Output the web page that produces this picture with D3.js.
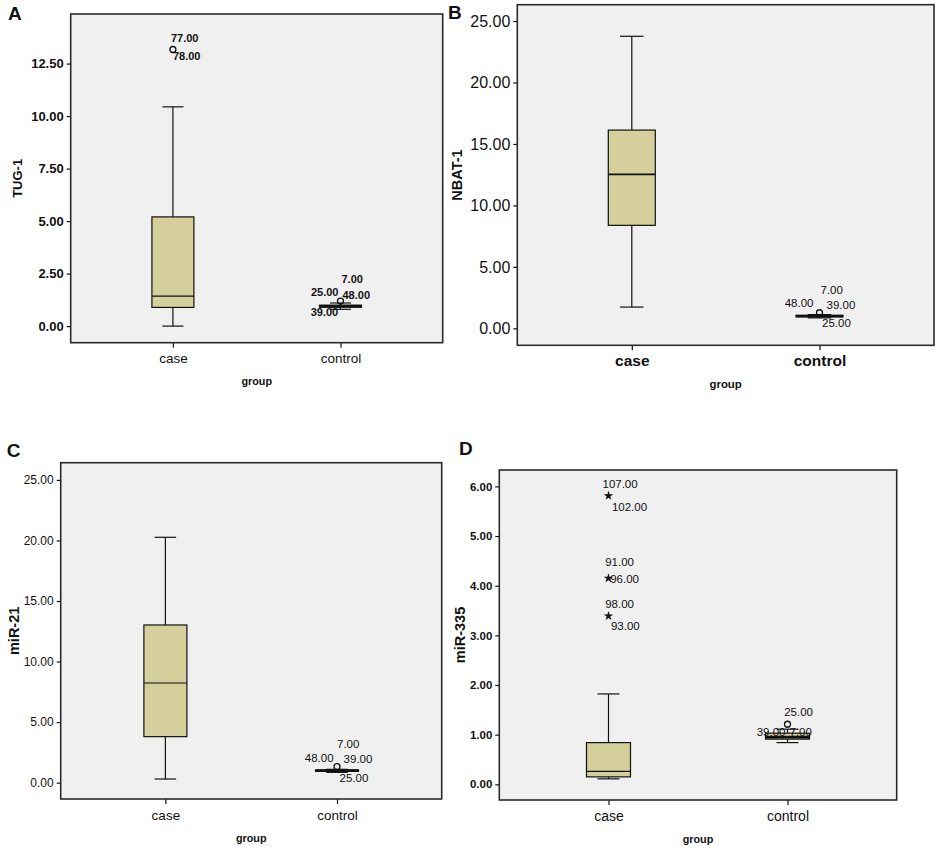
<!DOCTYPE html>
<html>
<head>
<meta charset="utf-8">
<script src="https://cdn.jsdelivr.net/npm/d3@7"></script>
<style>
  body { margin: 0; background: #fff; }
  text { font-family: "Liberation Sans", Arial, sans-serif; fill: #111; }
</style>
</head>
<body>
<div id="chart"></div>
<script>
// categories
var groups = ["case", "control"];

// box stats: [min whisker, Q1, median, Q3, max whisker]
var tugCase = [0.0, 0.89, 1.43, 5.2, 10.44];
var tugControl = [0.8, 0.9, 0.95, 0.99, 1.1];
var nbatCase = [1.73, 8.38, 12.53, 16.13, 23.76];
var nbatControl = [0.85, 0.93, 1.0, 1.05, 1.12];
var mir21Case = [0.3, 3.8, 8.23, 13.02, 20.26];
var mir21Control = [0.85, 0.93, 0.99, 1.04, 1.1];
var mir335Case = [0.11, 0.15, 0.26, 0.84, 1.82];
var mir335Control = [0.84, 0.91, 0.95, 1.03, 1.11];

// outliers (value + case ids)
var tugOutliers = [
  { group: "case", value: 13.17, ids: ["77.00", "78.00"], shape: "circle" },
  { group: "control", value: 1.19, ids: ["7.00", "25.00", "48.00", "39.00"], shape: "circle" }
];
var nbatOutliers = [
  { group: "control", value: 1.27, ids: ["7.00", "48.00", "39.00", "25.00"], shape: "circle" }
];
var mir21Outliers = [
  { group: "control", value: 1.32, ids: ["7.00", "48.00", "39.00", "25.00"], shape: "circle" }
];
var mir335Outliers = [
  { group: "case", value: 5.81, ids: ["107.00", "102.00"], shape: "star" },
  { group: "case", value: 4.15, ids: ["91.00", "96.00"], shape: "star" },
  { group: "case", value: 3.39, ids: ["98.00", "93.00"], shape: "star" },
  { group: "control", value: 1.21, ids: ["25.00", "39.00", "7.00"], shape: "circle" }
];

// tick values
var tugTicks = [0, 2.5, 5, 7.5, 10, 12.5];
var nbatTicks = [0, 5, 10, 15, 20, 25];
var mir21Ticks = [0, 5, 10, 15, 20, 25];
var mir335Ticks = [0, 1, 2, 3, 4, 5, 6];

var panelLetters = ["A", "B", "C", "D"];
var yTitles = ["TUG-1", "NBAT-1", "miR-21", "miR-335"];

// layout / styling per panel
var panels = [
  { stats: [tugCase, tugControl], outliers: tugOutliers, ticks: tugTicks,
    domain: [-0.79, 14.86], left: 70.7, top: 14, width: 372, height: 328.7,
    letterX: 8, letterY: 20, titleX: 17,
    tickSize: 13, tickWeight: "bold", catSize: 13.5, catWeight: "normal", groupSize: 10.8,
    outSize: 11, outWeight: "bold", boxW: 42, medianW: 1.2,
    offsets: { case: { "77.00": [-2, -7.6, "start"], "78.00": [0, 11, "start"] },
               control: { "7.00": [1, -17.7, "start"], "25.00": [-2, -5, "end"],
                          "48.00": [2, -2, "start"], "39.00": [-2.3, 15, "end"] } } },
  { stats: [nbatCase, nbatControl], outliers: nbatOutliers, ticks: nbatTicks,
    domain: [-1.38, 26.33], left: 517.3, top: 4.7, width: 416.7, height: 340.6,
    letterX: 448, letterY: 18.5, titleX: 457,
    tickSize: 16, tickWeight: "normal", catSize: 15.5, catWeight: "bold", groupSize: 11.4,
    outSize: 11.5, outWeight: "normal", boxW: 47, medianW: 1.8,
    offsets: { control: { "7.00": [1, -18.7, "start"], "48.00": [-6, -6, "end"],
                          "39.00": [7, -3.4, "start"], "25.00": [2.5, 14.6, "start"] } } },
  { stats: [mir21Case, mir21Control], outliers: mir21Outliers, ticks: mir21Ticks,
    domain: [-1.35, 26.42], left: 60.7, top: 462.7, width: 381, height: 336.3,
    letterX: 6.7, letterY: 456.7, titleX: 14,
    tickSize: 12, tickWeight: "normal", catSize: 13.5, catWeight: "normal", groupSize: 10.8,
    outSize: 11.5, outWeight: "normal", boxW: 43, medianW: 1.2,
    offsets: { control: { "7.00": [0, -18.4, "start"], "48.00": [-3.4, -5, "end"],
                          "39.00": [6.6, -3.4, "start"], "25.00": [2.6, 15, "start"] } } },
  { stats: [mir335Case, mir335Control], outliers: mir335Outliers, ticks: mir335Ticks,
    domain: [-0.316, 6.33], left: 499.3, top: 470, width: 397.4, height: 330,
    letterX: 459, letterY: 455, titleX: 460,
    tickSize: 11.5, tickWeight: "bold", catSize: 14, catWeight: "normal", groupSize: 10.8,
    outSize: 11.5, outWeight: "normal", boxW: 44, medianW: 1.2,
    offsets: { case: { "107.00": [-6, -7.6, "start"], "102.00": [3.4, 14.7, "start"],
                       "91.00": [-3.3, -12.3, "start"], "96.00": [1.7, 4.3, "start"],
                       "98.00": [-3.3, -8, "start"], "93.00": [2.4, 14.3, "start"] },
               control: { "25.00": [-3.3, -8, "start"], "39.00": [-2, 12, "end"],
                          "7.00": [2, 12, "start"] } } }
];

var svg = d3.select("#chart")
  .append("svg")
  .attr("width", 941)
  .attr("height", 849);

var boxFill = "#d4cf9b";
var fmt = d3.format(".2f");

panels.forEach(function(p, i) {
  var g = svg.append("g");

  var x = d3.scalePoint()
    .domain(groups)
    .range([p.left, p.left + p.width])
    .padding(0.61);

  var y = d3.scaleLinear()
    .domain(p.domain)
    .range([p.top + p.height, p.top]);

  // plot background
  g.append("rect")
    .attr("x", p.left).attr("y", p.top)
    .attr("width", p.width).attr("height", p.height)
    .attr("fill", "#f0f0f0");

  // boxes
  groups.forEach(function(grp, j) {
    var s = p.stats[j];
    var cx = x(grp);
    var bw = p.boxW, cap = p.boxW / 2;
    var bg = g.append("g");

    bg.append("line")
      .attr("x1", cx).attr("x2", cx)
      .attr("y1", y(s[0])).attr("y2", y(s[1]))
      .attr("stroke", "#111").attr("stroke-width", 1.2);
    bg.append("line")
      .attr("x1", cx).attr("x2", cx)
      .attr("y1", y(s[3])).attr("y2", y(s[4]))
      .attr("stroke", "#111").attr("stroke-width", 1.2);
    [s[0], s[4]].forEach(function(v) {
      bg.append("line")
        .attr("x1", cx - cap / 2).attr("x2", cx + cap / 2)
        .attr("y1", y(v)).attr("y2", y(v))
        .attr("stroke", "#111").attr("stroke-width", 1.2);
    });
    bg.append("rect")
      .attr("x", cx - bw / 2).attr("y", y(s[3]))
      .attr("width", bw).attr("height", Math.max(y(s[1]) - y(s[3]), 1))
      .attr("fill", boxFill)
      .attr("stroke", "#111").attr("stroke-width", 1.2);
    bg.append("line")
      .attr("x1", cx - bw / 2).attr("x2", cx + bw / 2)
      .attr("y1", y(s[2])).attr("y2", y(s[2]))
      .attr("stroke", "#111")
      .attr("stroke-width", grp === "control" ? 2.6 : p.medianW);
  });

  // outliers
  p.outliers.forEach(function(o) {
    var cx = x(o.group), cy = y(o.value);
    if (o.shape === "star") {
      g.append("path")
        .attr("d", d3.symbol().type(d3.symbolStar).size(28)())
        .attr("transform", "translate(" + cx + "," + cy + ")")
        .attr("fill", "#111");
    } else {
      g.append("circle")
        .attr("cx", cx).attr("cy", cy).attr("r", 3)
        .attr("fill", "none")
        .attr("stroke", "#111").attr("stroke-width", 1.3);
    }
    var offs = p.offsets[o.group] || {};
    o.ids.forEach(function(id) {
      var off = offs[id] || [4, 0, "start"];
      g.append("text")
        .attr("x", cx + off[0])
        .attr("y", cy + off[1])
        .attr("text-anchor", off[2])
        .style("font-size", p.outSize + "px")
        .style("font-weight", p.outWeight)
        .text(id);
    });
  });

  // y axis
  var yAxis = g.append("g")
    .attr("transform", "translate(" + p.left + ",0)")
    .call(d3.axisLeft(y).tickValues(p.ticks).tickSize(4).tickPadding(3).tickFormat(fmt));
  yAxis.select(".domain").remove();
  yAxis.selectAll(".tick line").attr("stroke", "#111").attr("stroke-width", 1.2);
  yAxis.selectAll(".tick text")
    .attr("fill", "#111")
    .style("font-family", "'Liberation Sans', Arial, sans-serif")
    .style("font-size", p.tickSize + "px")
    .style("font-weight", p.tickWeight);

  // x axis
  var xAxis = g.append("g")
    .attr("transform", "translate(0," + (p.top + p.height) + ")")
    .call(d3.axisBottom(x).tickSize(5));
  xAxis.select(".domain").remove();
  xAxis.selectAll(".tick line").attr("stroke", "#111").attr("stroke-width", 1.2);
  xAxis.selectAll(".tick text")
    .attr("y", 20.5).attr("dy", null)
    .attr("fill", "#111")
    .style("font-family", "'Liberation Sans', Arial, sans-serif")
    .style("font-size", p.catSize + "px")
    .style("font-weight", p.catWeight);

  // frame
  g.append("rect")
    .attr("x", p.left).attr("y", p.top)
    .attr("width", p.width).attr("height", p.height)
    .attr("fill", "none")
    .attr("stroke", "#2a2a2a").attr("stroke-width", 1.6);

  // x title
  g.append("text")
    .attr("x", p.left + p.width / 2)
    .attr("y", p.top + p.height + 42.5)
    .attr("text-anchor", "middle")
    .style("font-size", p.groupSize + "px")
    .style("font-weight", "bold")
    .text("group");

  // y title
  g.append("text")
    .attr("transform", "translate(" + p.titleX + "," + (p.top + p.height / 2) + ") rotate(-90)")
    .attr("text-anchor", "middle")
    .attr("dy", "0.35em")
    .style("font-size", (i === 0 ? 13 : 14.5) + "px")
    .style("font-weight", "bold")
    .text(yTitles[i]);

  // panel letter
  g.append("text")
    .attr("x", p.letterX)
    .attr("y", p.letterY)
    .style("font-size", "19px")
    .style("font-weight", "bold")
    .text(panelLetters[i]);
});
</script>
</body>
</html>
